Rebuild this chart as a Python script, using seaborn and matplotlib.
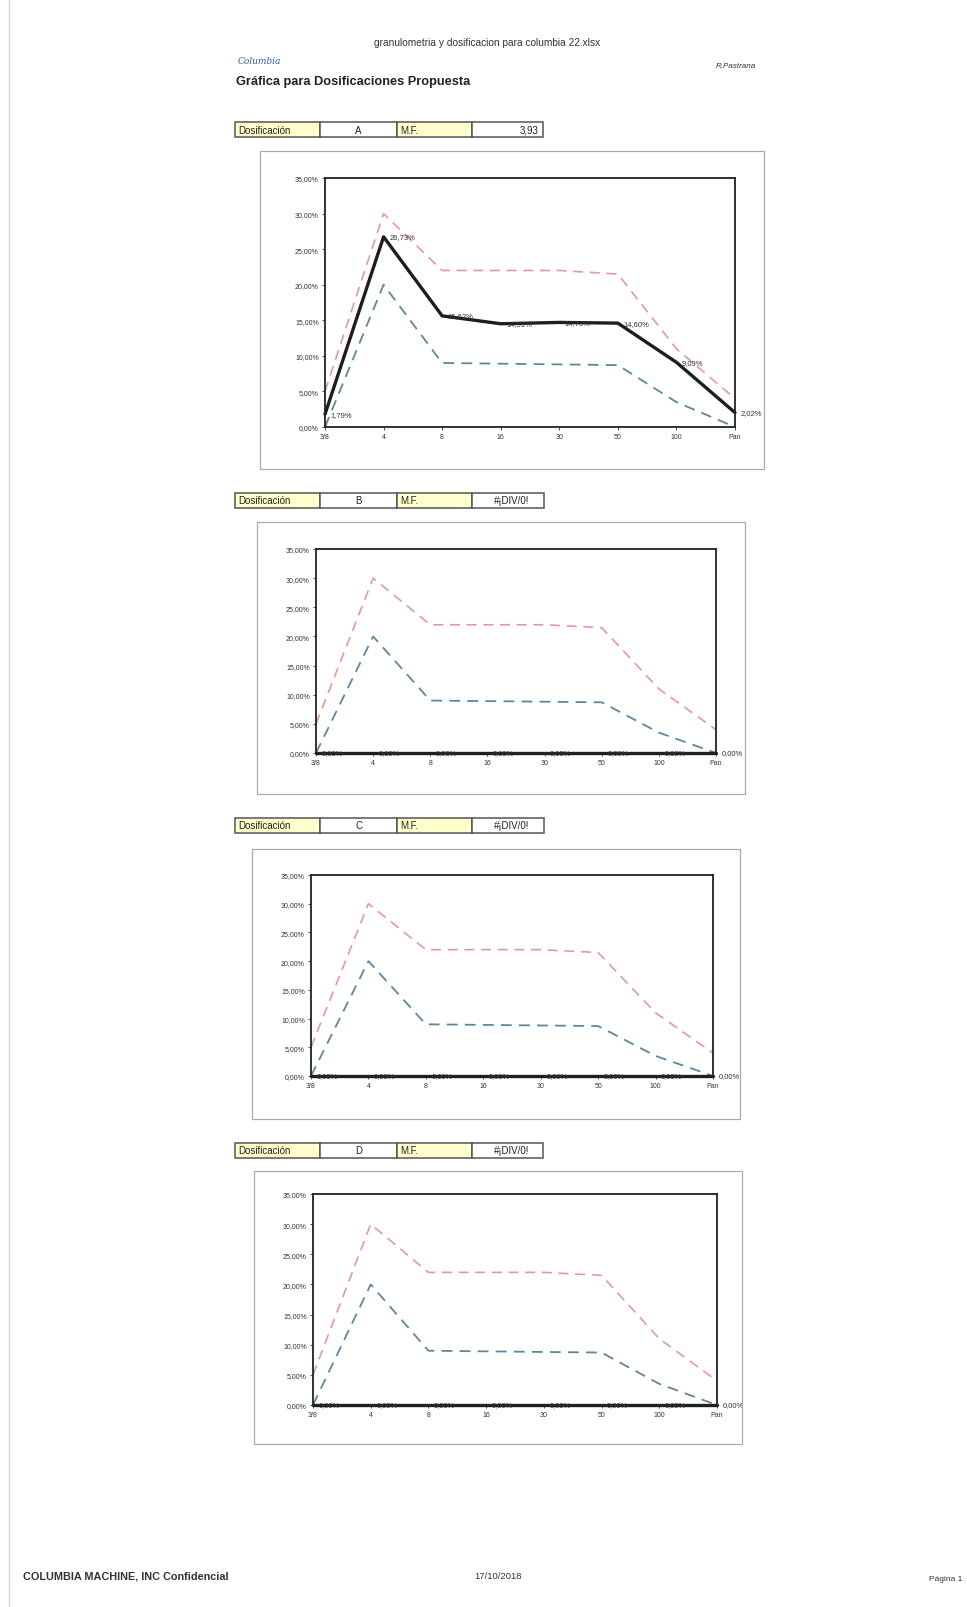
import matplotlib
matplotlib.use("Agg")
import matplotlib.pyplot as plt
from matplotlib.patches import Rectangle
from matplotlib.lines import Line2D
import seaborn as sns
import pandas as pd

# ---- data -------------------------------------------------------------
sieves = ["3/8", "4", "8", "16", "30", "50", "100", "Pan"]
upper_limit = [5.0, 30.0, 22.0, 22.0, 22.0, 21.5, 11.0, 4.0]
lower_limit = [0.0, 20.0, 9.0, 8.9, 8.8, 8.7, 3.5, 0.0]
mix_a = [1.79, 26.73, 15.62, 14.51, 14.70, 14.60, 9.09, 2.02]
mix_b = [0.0] * 8
mix_c = [0.0] * 8
mix_d = [0.0] * 8
mix_names = ["A", "B", "C", "D"]
mix_mf = ["3,93", "#¡DIV/0!", "#¡DIV/0!", "#¡DIV/0!"]
y_ticks = [0, 5, 10, 15, 20, 25, 30, 35]

# ---- page layout (pixel boxes: left, top, right, bottom) --------------
W, H = 967, 1608
layouts = [
    dict(label=(235, 123, 543, 138), outer=(260, 152, 764, 470), plot=(325, 179, 735, 428)),
    dict(label=(235, 494, 544, 509), outer=(257, 523, 745, 795), plot=(316, 550, 716, 754)),
    dict(label=(235, 819, 544, 834), outer=(252, 850, 740, 1120), plot=(311, 876, 713, 1077)),
    dict(label=(235, 1144, 543, 1159), outer=(254, 1172, 742, 1445), plot=(313, 1195, 717, 1406)),
]
mixes = [mix_a, mix_b, mix_c, mix_d]

sns.set_theme(style="white")
plt.rcParams["font.family"] = ["Liberation Sans", "DejaVu Sans"]

fig = plt.figure(figsize=(W / 100, H / 100), dpi=100)
fig.patch.set_facecolor("white")


def fx(x):
    return x / W


def fy(y):
    return 1 - y / H


def frect(x0, y0, x1, y1, **kw):
    r = Rectangle((fx(x0), fy(y1)), fx(x1) - fx(x0), fy(y0) - fy(y1),
                  transform=fig.transFigure, **kw)
    fig.patches.append(r)
    return r


def pct(v):
    return f"{v:.2f}%".replace(".", ",")


# faint scan margin line on the left
fig.lines.append(Line2D([fx(9), fx(9)], [0, 1], transform=fig.transFigure,
                        color="#d8d8d8", lw=1.0))

# ---- header -----------------------------------------------------------
fig.text(fx(487), fy(43), "granulometria y dosificacion para columbia 22.xlsx",
         ha="center", va="center", fontsize=7.3, color="#333333")
fig.text(fx(238), fy(62), "Columbia", ha="left", va="center", fontsize=6.5,
         style="italic", family="DejaVu Serif", color="#2f5f9a")
fig.text(fx(236), fy(82), "Gráfica para Dosificaciones Propuesta",
         ha="left", va="center", fontsize=9.2, fontweight="bold", color="#222222")
fig.text(fx(756), fy(66), "R.Pastrana", ha="right", va="center", fontsize=5.8,
         style="italic", color="#333333")

# ---- footer -----------------------------------------------------------
fig.text(fx(23), fy(1577), "COLUMBIA MACHINE, INC Confidencial", ha="left",
         va="center", fontsize=7.8, fontweight="bold", color="#333333")
fig.text(fx(498), fy(1577), "17/10/2018", ha="center", va="center",
         fontsize=6.8, color="#333333")
fig.text(fx(962), fy(1580), "Página 1", ha="right", va="center",
         fontsize=6, color="#333333")

yellow = "#ffffcc"
edge = "#555555"

for name, mf, values, lay in zip(mix_names, mix_mf, mixes, layouts):
    # header row of cells above each chart
    lx0, ly0, lx1, ly1 = lay["label"]
    cells = [(lx0, 320, yellow), (320, 397, "white"), (397, 472, yellow), (472, lx1, "white")]
    for cx0, cx1, col in cells:
        frect(cx0, ly0, cx1, ly1, facecolor=col, edgecolor=edge, lw=1.1)
    ymid = fy((ly0 + ly1) / 2)
    fig.text(fx(lx0 + 3), ymid, "Dosificación", ha="left", va="center",
             fontsize=7, color="#222222")
    fig.text(fx((320 + 397) / 2), ymid, name, ha="center", va="center",
             fontsize=7, color="#222222")
    fig.text(fx(400), ymid, "M.F.", ha="left", va="center", fontsize=7,
             color="#222222")
    if mf.startswith("#"):
        fig.text(fx((472 + lx1) / 2 + 4), ymid, mf, ha="center", va="center",
                 fontsize=7, color="#222222")
    else:
        fig.text(fx(lx1 - 4), ymid, mf, ha="right", va="center", fontsize=7,
                 color="#222222")

    # chart frame
    ox0, oy0, ox1, oy1 = lay["outer"]
    frect(ox0, oy0, ox1, oy1, facecolor="none", edgecolor="#aaaaaa", lw=0.9)

    # plot area
    px0, py0, px1, py1 = lay["plot"]
    ax = fig.add_axes([fx(px0), fy(py1), fx(px1) - fx(px0), fy(py0) - fy(py1)])
    df = pd.DataFrame({
        "pos": list(range(len(sieves))) * 3,
        "value": upper_limit + lower_limit + values,
        "serie": ["upper"] * 8 + ["lower"] * 8 + ["mix"] * 8,
    })
    sns.lineplot(data=df[df.serie == "upper"], x="pos", y="value", ax=ax,
                 color="#e29a9a", lw=1.2, linestyle=(0, (6, 4)))
    sns.lineplot(data=df[df.serie == "lower"], x="pos", y="value", ax=ax,
                 color="#5f86a0", lw=1.3, linestyle=(0, (6, 4)))
    sns.lineplot(data=df[df.serie == "mix"], x="pos", y="value", ax=ax,
                 color="#1e1e1e", lw=2.4)
    for ln in ax.lines[-1:]:
        ln.set_clip_on(False)
    for i, v in enumerate(values):
        ax.annotate(pct(v), (i, v), xytext=(4, 0), textcoords="offset points",
                    ha="left", va="center", fontsize=5.5, color="#333333",
                    annotation_clip=False)

    ax.set_xlim(0, len(sieves) - 1)
    ax.set_ylim(0, 35)
    ax.set_xticks(range(len(sieves)))
    ax.set_xticklabels(sieves)
    ax.set_yticks(y_ticks)
    ax.set_yticklabels([pct(t) for t in y_ticks])
    ax.set_xlabel("")
    ax.set_ylabel("")
    ax.tick_params(axis="both", labelsize=5, colors="#333333", length=2.5,
                   width=0.6, direction="out", pad=2, bottom=True, left=True)
    for sp in ax.spines.values():
        sp.set_visible(True)
        sp.set_color("#222222")
        sp.set_linewidth(1.3)
    ax.set_facecolor("white")
    ax.grid(False)
    if ax.get_legend():
        ax.get_legend().remove()

fig.savefig("out.png", dpi=100, facecolor="white")
